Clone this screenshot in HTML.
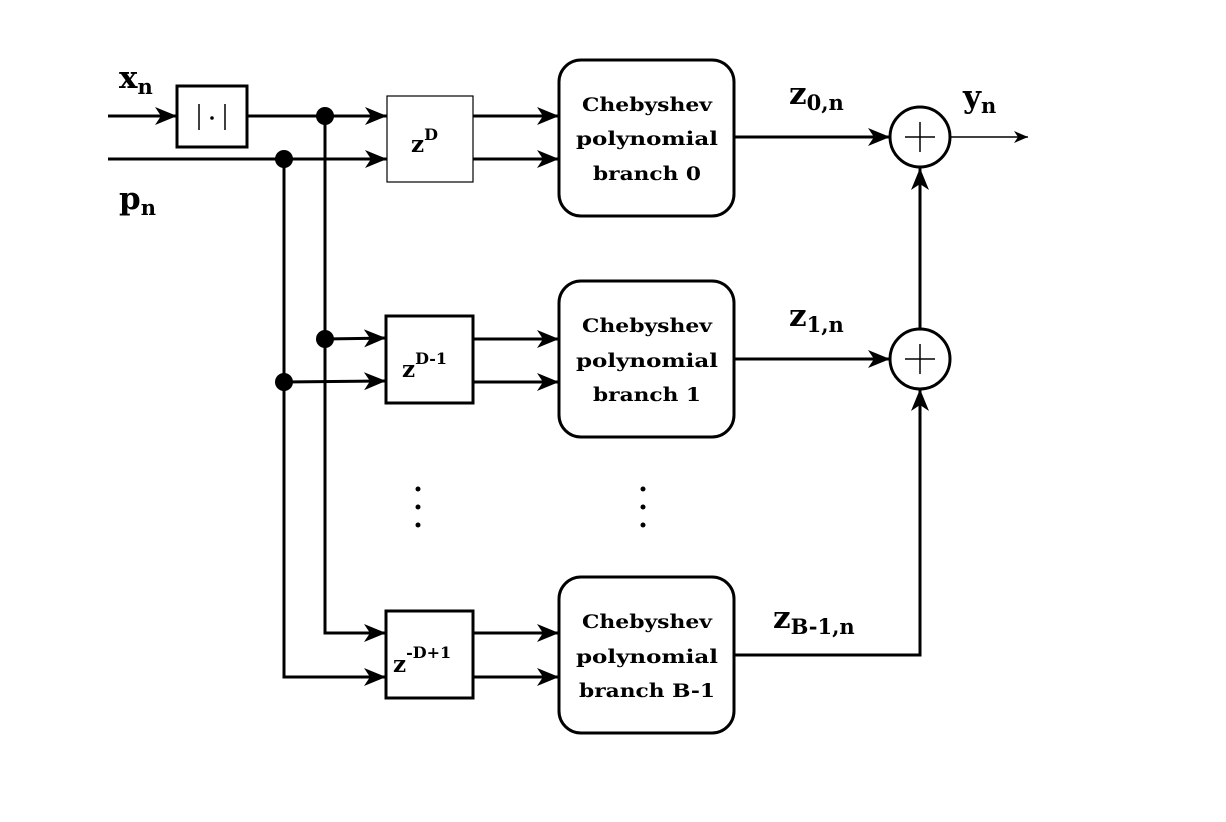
<!DOCTYPE html>
<html><head><meta charset="utf-8"><style>
html,body{margin:0;padding:0;background:#fff;width:1226px;height:822px;overflow:hidden}
svg text{font-family:"DejaVu Serif","Liberation Serif",serif;font-weight:bold;fill:#000}
</style></head><body>
<svg width="1226" height="822" viewBox="0 0 1226 822" xmlns="http://www.w3.org/2000/svg">
<defs>
<marker id="a" viewBox="0 0 22 18" refX="22" refY="9" markerWidth="22" markerHeight="18" markerUnits="userSpaceOnUse" orient="auto">
<path d="M0,0 L22,9 L0,18 L6,9 z" fill="#000"/></marker>
<marker id="b" viewBox="0 0 14 12" refX="14" refY="6" markerWidth="14" markerHeight="12" markerUnits="userSpaceOnUse" orient="auto">
<path d="M0,0 L14,6 L0,12 L4,6 z" fill="#000"/></marker>
</defs>
<g stroke="#000" stroke-width="3" fill="none">
<line x1="108" y1="116" x2="177" y2="116" marker-end="url(#a)"/>
<rect x="177" y="86" width="70" height="61"/>
<line x1="247" y1="116" x2="387" y2="116" marker-end="url(#a)"/>
<line x1="108" y1="159" x2="387" y2="159" marker-end="url(#a)"/>
<polyline points="325,116 325,633 386,633" marker-end="url(#a)"/>
<polyline points="284,159 284,677 386,677" marker-end="url(#a)"/>
<line x1="325" y1="339" x2="386" y2="338" marker-end="url(#a)"/>
<line x1="284" y1="382" x2="386" y2="381" marker-end="url(#a)"/>
<rect x="387" y="96" width="86" height="86" stroke-width="1.2"/>
<rect x="386" y="316" width="87" height="87"/>
<rect x="386" y="611" width="87" height="87"/>
<line x1="473" y1="116" x2="559" y2="116" marker-end="url(#a)"/>
<line x1="473" y1="159" x2="559" y2="159" marker-end="url(#a)"/>
<line x1="473" y1="339" x2="559" y2="339" marker-end="url(#a)"/>
<line x1="473" y1="382" x2="559" y2="382" marker-end="url(#a)"/>
<line x1="473" y1="633" x2="559" y2="633" marker-end="url(#a)"/>
<line x1="473" y1="677" x2="559" y2="677" marker-end="url(#a)"/>
<rect x="559" y="60" width="175" height="156" rx="22"/>
<rect x="559" y="281" width="175" height="156" rx="22"/>
<rect x="559" y="577" width="175" height="156" rx="22"/>
<line x1="734" y1="137" x2="890" y2="137" marker-end="url(#a)"/>
<line x1="734" y1="359" x2="890" y2="359" marker-end="url(#a)"/>
<polyline points="734,655 920,655 920,389" marker-end="url(#a)"/>
<line x1="920" y1="329" x2="920" y2="168" marker-end="url(#a)"/>
<circle cx="920" cy="137" r="30"/>
<circle cx="920" cy="359" r="30"/>
<line x1="951" y1="137" x2="1028" y2="137" stroke-width="1.5" marker-end="url(#b)"/>
</g>
<g stroke="#000" stroke-width="1.5">
<line x1="905" y1="137" x2="935" y2="137"/><line x1="920" y1="122" x2="920" y2="152"/>
<line x1="905" y1="359" x2="935" y2="359"/><line x1="920" y1="344" x2="920" y2="374"/>
<line x1="199" y1="104" x2="199" y2="130"/><line x1="225" y1="104" x2="225" y2="130"/>
</g>
<circle cx="212" cy="118" r="1.8" fill="#000"/>
<g fill="#000">
<circle cx="325" cy="116" r="9"/><circle cx="284" cy="159" r="9"/>
<circle cx="325" cy="339" r="9"/><circle cx="284" cy="382" r="9"/>
<circle cx="418" cy="489" r="2.5"/><circle cx="418" cy="507" r="2.5"/><circle cx="418" cy="525" r="2.5"/>
<circle cx="643" cy="489" r="2.5"/><circle cx="643" cy="507" r="2.5"/><circle cx="643" cy="525" r="2.5"/>
</g>
<text x="119" y="88" font-size="31">x<tspan font-size="21" dy="6">n</tspan></text>
<text x="119" y="209" font-size="31">p<tspan font-size="21" dy="6">n</tspan></text>
<text x="411" y="152" font-size="23">z<tspan font-size="16" dy="-12">D</tspan></text>
<text x="402" y="377" font-size="23">z<tspan font-size="16" dy="-13">D-1</tspan></text>
<text x="393" y="672" font-size="23">z<tspan font-size="16" dy="-14">-D+1</tspan></text>
<g font-size="19" text-anchor="middle">
<text x="647" y="111" textLength="130" lengthAdjust="spacingAndGlyphs">Chebyshev</text><text x="647" y="145" textLength="142" lengthAdjust="spacingAndGlyphs">polynomial</text><text x="647" y="180" textLength="108" lengthAdjust="spacingAndGlyphs">branch 0</text>
<text x="647" y="332" textLength="130" lengthAdjust="spacingAndGlyphs">Chebyshev</text><text x="647" y="367" textLength="142" lengthAdjust="spacingAndGlyphs">polynomial</text><text x="647" y="401" textLength="108" lengthAdjust="spacingAndGlyphs">branch 1</text>
<text x="647" y="628" textLength="130" lengthAdjust="spacingAndGlyphs">Chebyshev</text><text x="647" y="663" textLength="142" lengthAdjust="spacingAndGlyphs">polynomial</text><text x="647" y="697" textLength="136" lengthAdjust="spacingAndGlyphs">branch B-1</text>
</g>
<text x="789" y="104" font-size="31">z<tspan font-size="21" dy="6">0,n</tspan></text>
<text x="789" y="326" font-size="31">z<tspan font-size="21" dy="6">1,n</tspan></text>
<text x="773" y="628" font-size="31">z<tspan font-size="21" dy="6">B-1,n</tspan></text>
<text x="963" y="107" font-size="31">y<tspan font-size="21" dy="6">n</tspan></text>
</svg>
</body></html>
